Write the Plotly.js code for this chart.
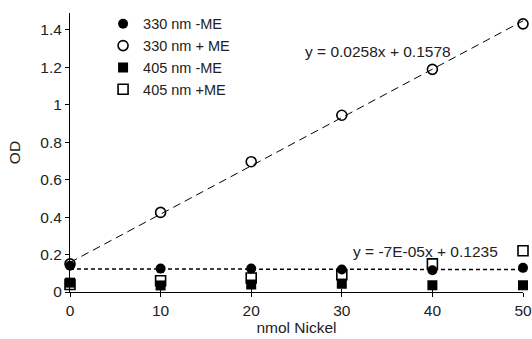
<!DOCTYPE html>
<html>
<head>
<meta charset="utf-8">
<script src="https://cdn.plot.ly/plotly-3.0.1.min.js"></script>
<style>html,body{margin:0;padding:0;background:#fff;}#chart{width:532px;height:339px;}</style>
</head>
<body>
<div id="chart"></div>
<script>
const nickel = [0, 10, 20, 30, 40, 50];
const od330NoME = [0.14, 0.125, 0.125, 0.12, 0.116, 0.129];
const od330ME = [0.15, 0.425, 0.696, 0.944, 1.189, 1.432];
const od405NoME = [0.05, 0.035, 0.04, 0.044, 0.036, 0.036];
const od405ME = [0.04, 0.06, 0.075, 0.093, 0.15, 0.22];
const seriesNames = ['330 nm -ME', '330 nm + ME', '405 nm -ME', '405 nm +ME'];
const fitME = {slope: 0.0258, intercept: 0.1578, label: 'y = 0.0258x + 0.1578'};
const fitNoME = {slope: -0.00007, intercept: 0.1235, label: 'y = -7E-05x + 0.1235'};
const xTicks = [0, 10, 20, 30, 40, 50];
const yTicks = [0, 0.2, 0.4, 0.6, 0.8, 1, 1.2, 1.4];

const FONT = 'Liberation Sans, Arial, sans-serif';
const FS = 15.5;
const xEnds = [Math.min(...nickel), Math.max(...nickel)];
const lineY = f => xEnds.map(x => f.slope * x + f.intercept);

const traces = [
  {x: xEnds, y: lineY(fitME), mode: 'lines', line: {color: '#000', width: 1, dash: '8px,5px'}, showlegend: false, hoverinfo: 'skip', cliponaxis: false},
  {x: xEnds, y: lineY(fitNoME), mode: 'lines', line: {color: '#000', width: 1.5, dash: '4px,3px'}, showlegend: false, hoverinfo: 'skip', cliponaxis: false},
  {x: nickel, y: od330NoME, name: seriesNames[0], legendgroup: 'a', mode: 'markers', cliponaxis: false,
   marker: {symbol: 'circle', size: 10, color: '#000'}},
  {x: nickel, y: od330ME, name: seriesNames[1], legendgroup: 'b', mode: 'markers', cliponaxis: false,
   marker: {symbol: 'circle-open', size: 10, color: '#000', line: {width: 1.6}}},
  {x: nickel, y: od405NoME, name: seriesNames[2], legendgroup: 'c', mode: 'markers', cliponaxis: false,
   marker: {symbol: 'square', size: 10, color: '#000'}},
  {x: nickel, y: od405ME, name: seriesNames[3], legendgroup: 'd', mode: 'markers', cliponaxis: false,
   marker: {symbol: 'square-open', size: 10, color: '#000', line: {width: 1.6}}}
];

const layout = {
  width: 532, height: 339,
  margin: {l: 70, r: 9, t: 12, b: 47, pad: 0},
  paper_bgcolor: '#fff', plot_bgcolor: '#fff',
  font: {family: FONT, size: FS, color: '#222'},
  showlegend: true,
  legend: {x: 0.073, y: 1.015, xanchor: 'left', yanchor: 'top', bgcolor: 'rgba(0,0,0,0)',
    font: {family: FONT, size: 14.5, color: '#222'}, traceorder: 'grouped', tracegroupgap: 0},
  xaxis: {range: [0, 50], tickvals: xTicks, ticks: 'outside', ticklen: 4, tickcolor: '#000', tickwidth: 1,
    showline: true, linecolor: '#000', linewidth: 1, showgrid: false, zeroline: false,
    tickfont: {family: FONT, size: FS, color: '#222'},
    title: {text: 'nmol Nickel', font: {family: FONT, size: FS, color: '#222'}, standoff: 3}},
  xaxis2: {range: [0, 50], overlaying: 'x', side: 'bottom', tickvals: xTicks, ticks: 'inside', ticklen: 3,
    tickcolor: '#000', showticklabels: false, showline: false, showgrid: false, zeroline: false},
  yaxis: {range: [0, 1.49], tickvals: yTicks, ticks: 'outside', ticklen: 4, tickcolor: '#000', tickwidth: 1,
    showline: true, linecolor: '#000', linewidth: 1, showgrid: false, zeroline: false,
    tickfont: {family: FONT, size: FS, color: '#222'},
    title: {text: 'OD', font: {family: FONT, size: FS, color: '#222'}, standoff: 15}},
  annotations: [
    {x: 0.68, y: 1.287, xref: 'paper', yref: 'y', text: fitME.label, showarrow: false, xanchor: 'center', yanchor: 'middle',
     font: {family: FONT, size: FS, color: '#222'}},
    {x: 0.785, y: 0.218, xref: 'paper', yref: 'y', text: fitNoME.label, showarrow: false, xanchor: 'center', yanchor: 'middle',
     font: {family: FONT, size: FS, color: '#222'}}
  ]
};
traces.push({x: xEnds, y: [null, null], xaxis: 'x2', yaxis: 'y', mode: 'markers', showlegend: false, hoverinfo: 'skip'});

Plotly.newPlot('chart', traces, layout, {displayModeBar: false, staticPlot: true});
</script>
</body>
</html>
